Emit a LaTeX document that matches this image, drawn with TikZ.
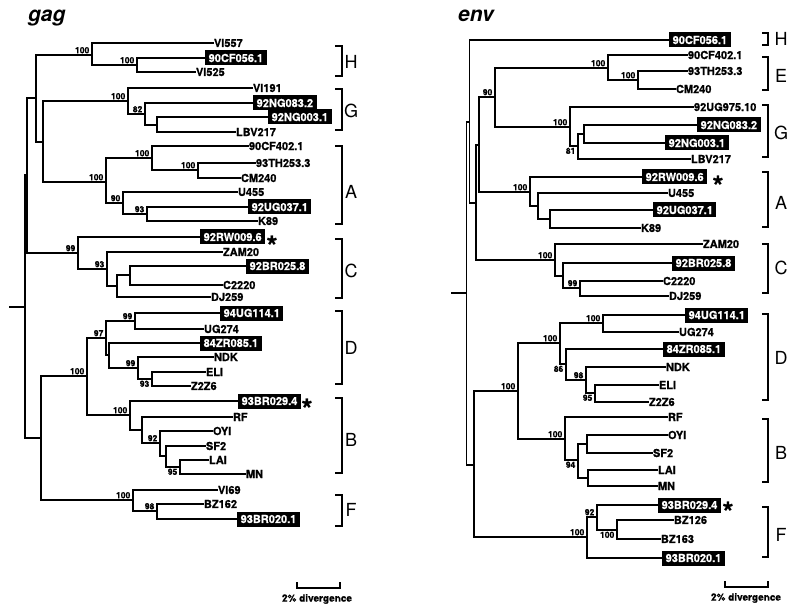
\documentclass[tikz,border=0pt]{standalone}
\usepackage{fontspec}
\setmainfont{TeX Gyre Heros}[BoldFeatures={FakeBold=0.9}]
\usetikzlibrary{positioning}
\definecolor{Ink}{HTML}{000000}
\tikzset{
  branch/.style={draw=Ink, line width=1.8pt, line cap=rect, line join=miter},
  bracket/.style={draw=Ink, line width=1.7pt, line join=miter},
  taxon/.style={anchor=west, inner sep=0.8pt, text=Ink, font=\bfseries\fontsize{11}{12}\selectfont},
  isolate/.style={anchor=west, fill=Ink, text=white, inner xsep=3.5pt, inner ysep=0pt,
    minimum height=15pt, font=\bfseries\fontsize{11}{12}\selectfont},
  bootup/.style={anchor=south east, inner sep=0pt, xshift=-2.5pt, yshift=1.5pt,
    font=\bfseries\fontsize{8.5}{9}\selectfont},
  bootdown/.style={anchor=north east, inner sep=0pt, xshift=-2.5pt, yshift=-1.5pt,
    font=\bfseries\fontsize{8.5}{9}\selectfont},
  clade/.style={inner sep=0pt, font=\fontsize{18}{20}\selectfont},
  flag/.style={anchor=base, inner sep=0pt, yshift=-16pt, font=\bfseries\fontsize{28}{28}\selectfont},
  genetitle/.style={anchor=base west, inner sep=0pt, font=\bfseries\itshape\fontsize{21}{24}\selectfont},
  scalelabel/.style={inner sep=0pt, font=\bfseries\fontsize{10}{12}\selectfont},
}

\begin{document}
\begin{tikzpicture}[x=1pt, y=-1pt]
  \useasboundingbox (0,0) rectangle (797,612);

  \node[genetitle] (gagtitle) at (28,22) {gag};
  \node[genetitle] (envtitle) at (458,22) {env};

  % ---------------- gag tree: taxa ----------------
  \node[taxon] (gVI557) at (213,43) {VI557};
  \node[isolate] (g90CF056) at (205,58) {90CF056.1};
  \node[taxon] (gVI525) at (195,72) {VI525};
  \node[taxon] (gVI191) at (252,88) {VI191};
  \node[isolate] (g92NG083) at (253,103) {92NG083.2};
  \node[isolate] (g92NG003) at (268,117) {92NG003.1};
  \node[taxon] (gLBV217) at (235,132) {LBV217};
  \node[taxon] (g90CF402) at (248,146) {90CF402.1};
  \node[taxon] (g93TH253) at (255,163) {93TH253.3};
  \node[taxon] (gCM240) at (240,178) {CM240};
  \node[taxon] (gU455) at (237,192) {U455};
  \node[isolate] (g92UG037) at (248,207) {92UG037.1};
  \node[taxon] (gK89) at (257,221) {K89};
  \node[isolate] (g92RW009) at (200,237) {92RW009.6};
  \node[taxon] (gZAM20) at (222,252) {ZAM20};
  \node[isolate] (g92BR025) at (246,266) {92BR025.8};
  \node[taxon] (gC2220) at (222,285) {C2220};
  \node[taxon] (gDJ259) at (210,297) {DJ259};
  \node[isolate] (g94UG114) at (220,313) {94UG114.1};
  \node[taxon] (gUG274) at (203,329) {UG274};
  \node[isolate] (g84ZR085) at (200,343) {84ZR085.1};
  \node[taxon] (gNDK) at (213,357) {NDK};
  \node[taxon] (gELI) at (205,372) {ELI};
  \node[taxon] (gZ2Z6) at (190,386) {Z2Z6};
  \node[isolate] (g93BR029) at (238,401) {93BR029.4};
  \node[taxon] (gRF) at (232,417) {RF};
  \node[taxon] (gOYI) at (212,431) {OYI};
  \node[taxon] (gSF2) at (205,446) {SF2};
  \node[taxon] (gLAI) at (208,460) {LAI};
  \node[taxon] (gMN) at (245,474) {MN};
  \node[taxon] (gVI69) at (217,490) {VI69};
  \node[taxon] (gBZ162) at (203,504) {BZ162};
  \node[isolate] (g93BR020) at (237,519) {93BR020.1};

  % gag: internal nodes (x = node, y = where the parent branch meets it)
  \coordinate (gStub) at (10,307);
  \coordinate (gRoot) at (25,307);
  \coordinate (gUp) at (27,175);
  \coordinate (gHGA) at (36,98);
  \coordinate (gH) at (92,55);
  \coordinate (gH2) at (137,65);
  \coordinate (gGA) at (43,142);
  \coordinate (gG) at (128,101);
  \coordinate (gG2) at (145,114);
  \coordinate (gG3) at (157,125);
  \coordinate (gA) at (106,182);
  \coordinate (gA1) at (152,158);
  \coordinate (gA1b) at (198,170);
  \coordinate (gA2) at (123,203);
  \coordinate (gA2b) at (147,214);
  \coordinate (gC) at (78,253);
  \coordinate (gC2) at (107,269);
  \coordinate (gC3) at (117,286);
  \coordinate (gC4) at (130,275);
  \coordinate (gDBF) at (41,438);
  \coordinate (gDB) at (87,376);
  \coordinate (gD) at (106,338);
  \coordinate (gD1) at (135,321);
  \coordinate (gD2) at (109,355);
  \coordinate (gD3) at (138,368);
  \coordinate (gD4) at (152,379);
  \coordinate (gB) at (130,415);
  \coordinate (gB1) at (142,430);
  \coordinate (gB2) at (160,443);
  \coordinate (gB3) at (166,456);
  \coordinate (gB4) at (180,467);
  \coordinate (gF) at (133,500);
  \coordinate (gF1) at (157,511);

  % gag: branches
  \draw[branch] (gStub) -- (gRoot);
  \draw[branch] (gRoot) |- (gUp) (gRoot) |- (gDBF);
  \draw[branch] (gUp) |- (gHGA) (gUp) |- (gC);
  \draw[branch] (gHGA) |- (gH) (gHGA) |- (gGA);
  \draw[branch] (gH) |- (gVI557.west) (gH) |- (gH2);
  \draw[branch] (gH2) |- (g90CF056.west) (gH2) |- (gVI525.west);
  \draw[branch] (gGA) |- (gG) (gGA) |- (gA);
  \draw[branch] (gG) |- (gVI191.west) (gG) |- (gG2);
  \draw[branch] (gG2) |- (g92NG083.west) (gG2) |- (gG3);
  \draw[branch] (gG3) |- (g92NG003.west) (gG3) |- (gLBV217.west);
  \draw[branch] (gA) |- (gA1) (gA) |- (gA2);
  \draw[branch] (gA1) |- (g90CF402.west) (gA1) |- (gA1b);
  \draw[branch] (gA1b) |- (g93TH253.west) (gA1b) |- (gCM240.west);
  \draw[branch] (gA2) |- (gU455.west) (gA2) |- (gA2b);
  \draw[branch] (gA2b) |- (g92UG037.west) (gA2b) |- (gK89.west);
  \draw[branch] (gC) |- (g92RW009.west) (gC) |- (gC2);
  \draw[branch] (gC2) |- (gZAM20.west) (gC2) |- (gC3);
  \draw[branch] (gC3) |- (gC4) (gC3) |- (gDJ259.west);
  \draw[branch] (gC4) |- (g92BR025.west) (gC4) |- (gC2220.west);
  \draw[branch] (gDBF) |- (gDB) (gDBF) |- (gF);
  \draw[branch] (gDB) |- (gD) (gDB) |- (gB);
  \draw[branch] (gD) |- (gD1) (gD) |- (gD2);
  \draw[branch] (gD1) |- (g94UG114.west) (gD1) |- (gUG274.west);
  \draw[branch] (gD2) |- (g84ZR085.west) (gD2) |- (gD3);
  \draw[branch] (gD3) |- (gNDK.west) (gD3) |- (gD4);
  \draw[branch] (gD4) |- (gELI.west) (gD4) |- (gZ2Z6.west);
  \draw[branch] (gB) |- (g93BR029.west) (gB) |- (gB1);
  \draw[branch] (gB1) |- (gRF.west) (gB1) |- (gB2);
  \draw[branch] (gB2) |- (gOYI.west) (gB2) |- (gB3);
  \draw[branch] (gB3) |- (gSF2.west) (gB3) |- (gB4);
  \draw[branch] (gB4) |- (gLAI.west) (gB4) |- (gMN.west);
  \draw[branch] (gF) |- (gVI69.west) (gF) |- (gF1);
  \draw[branch] (gF1) |- (gBZ162.west) (gF1) |- (g93BR020.west);

  % gag: bootstrap values
  \node[bootup] (gbH) at (gH) {100};
  \node[bootup] (gbH2) at (gH2) {100};
  \node[bootup] (gbG) at (gG) {100};
  \node[bootup] (gbG2) at (gG2) {82};
  \node[bootup] (gbA) at (gA) {100};
  \node[bootup] (gbA1) at (gA1) {100};
  \node[bootup] (gbA1b) at (gA1b) {100};
  \node[bootup] (gbA2) at (gA2) {90};
  \node[bootup] (gbA2b) at (gA2b) {93};
  \node[bootup] (gbC) at (gC) {99};
  \node[bootup] (gbC2) at (gC2) {93};
  \node[bootup] (gbDB) at (gDB) {100};
  \node[bootup] (gbD) at (gD) {97};
  \node[bootup] (gbD1) at (gD1) {99};
  \node[bootup] (gbD3) at (gD3) {99};
  \node[bootdown] (gbD4) at (gD4) {93};
  \node[bootup] (gbB) at (gB) {100};
  \node[bootup] (gbB2) at (gB2) {92};
  \node[bootdown] (gbB4) at (gB4) {95};
  \node[bootup] (gbF) at (gF) {100};
  \node[bootup] (gbF1) at (gF1) {98};

  \node[flag] (gstarC) at (272,240) {*};
  \node[flag] (gstarB) at (307,403) {*};

  % gag: subtype brackets
  \draw[bracket] (335,46) -| (342,76) -- (335,76);
  \draw[bracket] (335,89) -| (342,130) -- (335,130);
  \draw[bracket] (335,146) -| (342,224) -- (335,224);
  \draw[bracket] (335,239) -| (342,298) -- (335,298);
  \draw[bracket] (335,311) -| (342,384) -- (335,384);
  \draw[bracket] (335,398) -| (342,473) -- (335,473);
  \draw[bracket] (335,495) -| (342,526) -- (335,526);
  \node[clade] (gsubH) at (351,62) {H};
  \node[clade] (gsubG) at (351,111) {G};
  \node[clade] (gsubA) at (351,192) {A};
  \node[clade] (gsubC) at (351,271) {C};
  \node[clade] (gsubD) at (351,348) {D};
  \node[clade] (gsubB) at (351,440) {B};
  \node[clade] (gsubF) at (351,510) {F};

  % gag: scale
  \coordinate (gbarL) at (297,588);
  \coordinate (gbarR) at (340,588);
  \draw[bracket] ([yshift=6pt]gbarL) -- (gbarL) -- (gbarR) -- ([yshift=6pt]gbarR);
  \node[scalelabel] (gbartext) at (317,599) {2\% divergence};

  % ---------------- env tree: taxa ----------------
  \node[isolate] (e90CF056) at (669,40) {90CF056.1};
  \node[taxon] (e90CF402) at (687,55) {90CF402.1};
  \node[taxon] (e93TH253) at (687,71) {93TH253.3};
  \node[taxon] (eCM240) at (675,89) {CM240};
  \node[taxon] (e92UG975) at (693,107) {92UG975.10};
  \node[isolate] (e92NG083) at (697,125) {92NG083.2};
  \node[isolate] (e92NG003) at (665,143) {92NG003.1};
  \node[taxon] (eLBV217) at (690,159) {LBV217};
  \node[isolate] (e92RW009) at (642,177) {92RW009.6};
  \node[taxon] (eU455) at (667,193) {U455};
  \node[isolate] (e92UG037) at (653,210) {92UG037.1};
  \node[taxon] (eK89) at (640,228) {K89};
  \node[taxon] (eZAM20) at (702,244) {ZAM20};
  \node[isolate] (e92BR025) at (672,263) {92BR025.8};
  \node[taxon] (eC2220) at (662,281) {C2220};
  \node[taxon] (eDJ259) at (668,296) {DJ259};
  \node[isolate] (e94UG114) at (685,315) {94UG114.1};
  \node[taxon] (eUG274) at (678,332) {UG274};
  \node[isolate] (e84ZR085) at (663,349) {84ZR085.1};
  \node[taxon] (eNDK) at (665,367) {NDK};
  \node[taxon] (eELI) at (658,385) {ELI};
  \node[taxon] (eZ2Z6) at (648,402) {Z2Z6};
  \node[taxon] (eRF) at (667,417) {RF};
  \node[taxon] (eOYI) at (667,435) {OYI};
  \node[taxon] (eSF2) at (652,453) {SF2};
  \node[taxon] (eLAI) at (657,470) {LAI};
  \node[taxon] (eMN) at (657,486) {MN};
  \node[isolate] (e93BR029) at (658,505) {93BR029.4};
  \node[taxon] (eBZ126) at (673,520) {BZ126};
  \node[taxon] (eBZ163) at (660,539) {BZ163};
  \node[isolate] (e93BR020) at (662,558) {93BR020.1};

  % env: internal nodes
  \coordinate (eStub) at (452,293);
  \coordinate (eRoot) at (466.5,293);
  \coordinate (eX) at (469.5,122);
  \coordinate (eEGAC) at (476,203);
  \coordinate (eEGA) at (479,145);
  \coordinate (eEG) at (495,97);
  \coordinate (eE) at (608,68);
  \coordinate (eE2) at (638,80);
  \coordinate (eG) at (570,127);
  \coordinate (eG2) at (578,146);
  \coordinate (eG3) at (584,134);
  \coordinate (eA) at (530,192);
  \coordinate (eA2) at (538,206);
  \coordinate (eA3) at (550,219);
  \coordinate (eC) at (555,260);
  \coordinate (eC2) at (563,276);
  \coordinate (eC3) at (580,288);
  \coordinate (eDBF) at (474,465);
  \coordinate (eDB) at (518,391);
  \coordinate (eD) at (560,343);
  \coordinate (eD1) at (603,323);
  \coordinate (eD2) at (566,364);
  \coordinate (eD3) at (586,380);
  \coordinate (eD4) at (595,393);
  \coordinate (eB) at (565,439);
  \coordinate (eB2) at (578,460);
  \coordinate (eB3) at (587,444);
  \coordinate (eB4) at (588,478);
  \coordinate (eF) at (587,537);
  \coordinate (eF1) at (597,517);
  \coordinate (eF2) at (617,530);

  % env: branches
  \draw[branch] (eStub) -- (eRoot);
  \draw[branch] (eRoot) |- (eX) (eRoot) |- (eDBF);
  \draw[branch] (eX) |- (e90CF056.west) (eX) |- (eEGAC);
  \draw[branch] (eEGAC) |- (eEGA) (eEGAC) |- (eC);
  \draw[branch] (eEGA) |- (eEG) (eEGA) |- (eA);
  \draw[branch] (eEG) |- (eE) (eEG) |- (eG);
  \draw[branch] (eE) |- (e90CF402.west) (eE) |- (eE2);
  \draw[branch] (eE2) |- (e93TH253.west) (eE2) |- (eCM240.west);
  \draw[branch] (eG) |- (e92UG975.west) (eG) |- (eG2);
  \draw[branch] (eG2) |- (eG3) (eG2) |- (eLBV217.west);
  \draw[branch] (eG3) |- (e92NG083.west) (eG3) |- (e92NG003.west);
  \draw[branch] (eA) |- (e92RW009.west) (eA) |- (eA2);
  \draw[branch] (eA2) |- (eU455.west) (eA2) |- (eA3);
  \draw[branch] (eA3) |- (e92UG037.west) (eA3) |- (eK89.west);
  \draw[branch] (eC) |- (eZAM20.west) (eC) |- (eC2);
  \draw[branch] (eC2) |- (e92BR025.west) (eC2) |- (eC3);
  \draw[branch] (eC3) |- (eC2220.west) (eC3) |- (eDJ259.west);
  \draw[branch] (eDBF) |- (eDB) (eDBF) |- (eF);
  \draw[branch] (eDB) |- (eD) (eDB) |- (eB);
  \draw[branch] (eD) |- (eD1) (eD) |- (eD2);
  \draw[branch] (eD1) |- (e94UG114.west) (eD1) |- (eUG274.west);
  \draw[branch] (eD2) |- (e84ZR085.west) (eD2) |- (eD3);
  \draw[branch] (eD3) |- (eNDK.west) (eD3) |- (eD4);
  \draw[branch] (eD4) |- (eELI.west) (eD4) |- (eZ2Z6.west);
  \draw[branch] (eB) |- (eRF.west) (eB) |- (eB2);
  \draw[branch] (eB2) |- (eB3) (eB2) |- (eB4);
  \draw[branch] (eB3) |- (eOYI.west) (eB3) |- (eSF2.west);
  \draw[branch] (eB4) |- (eLAI.west) (eB4) |- (eMN.west);
  \draw[branch] (eF) |- (eF1) (eF) |- (e93BR020.west);
  \draw[branch] (eF1) |- (e93BR029.west) (eF1) |- (eF2);
  \draw[branch] (eF2) |- (eBZ126.west) (eF2) |- (eBZ163.west);

  % env: bootstrap values
  \node[bootup] (ebEG) at (eEG) {90};
  \node[bootup] (ebE) at (eE) {100};
  \node[bootup] (ebE2) at (eE2) {100};
  \node[bootup] (ebG) at (eG) {100};
  \node[bootdown] (ebG2) at (eG2) {81};
  \node[bootup] (ebA) at (eA) {100};
  \node[bootup] (ebC) at (eC) {100};
  \node[bootup] (ebC3) at (eC3) {99};
  \node[bootup] (ebDB) at (eDB) {100};
  \node[bootup] (ebD) at (eD) {100};
  \node[bootup] (ebD1) at (eD1) {100};
  \node[bootdown] (ebD2) at (eD2) {86};
  \node[bootup] (ebD3) at (eD3) {98};
  \node[bootdown] (ebD4) at (eD4) {95};
  \node[bootup] (ebB) at (eB) {100};
  \node[bootdown] (ebB2) at (eB2) {94};
  \node[bootup] (ebF) at (eF) {100};
  \node[bootup] (ebF1) at (eF1) {92};
  \node[bootdown] (ebF2) at (eF2) {100};

  \node[flag] (estarA) at (718,180) {*};
  \node[flag] (estarF) at (728,506) {*};

  % env: subtype brackets
  \draw[bracket] (762,33) -| (768,45) -- (762,45);
  \draw[bracket] (762,57) -| (768,90) -- (762,90);
  \draw[bracket] (762,105) -| (768,157) -- (762,157);
  \draw[bracket] (762,172) -| (768,227) -- (762,227);
  \draw[bracket] (762,244) -| (768,293) -- (762,293);
  \draw[bracket] (762,314) -| (768,400) -- (762,400);
  \draw[bracket] (762,419) -| (768,482) -- (762,482);
  \draw[bracket] (762,507) -| (768,557) -- (762,557);
  \node[clade] (esubH) at (781,39) {H};
  \node[clade] (esubE) at (781,76) {E};
  \node[clade] (esubG) at (781,133) {G};
  \node[clade] (esubA) at (781,203) {A};
  \node[clade] (esubC) at (781,268) {C};
  \node[clade] (esubD) at (781,358) {D};
  \node[clade] (esubB) at (781,453) {B};
  \node[clade] (esubF) at (781,535) {F};

  % env: scale
  \coordinate (ebarL) at (725,587);
  \coordinate (ebarR) at (768,587);
  \draw[bracket] ([yshift=6pt]ebarL) -- (ebarL) -- (ebarR) -- ([yshift=6pt]ebarR);
  \node[scalelabel] (ebartext) at (746,598) {2\% divergence};
\end{tikzpicture}
\end{document}
